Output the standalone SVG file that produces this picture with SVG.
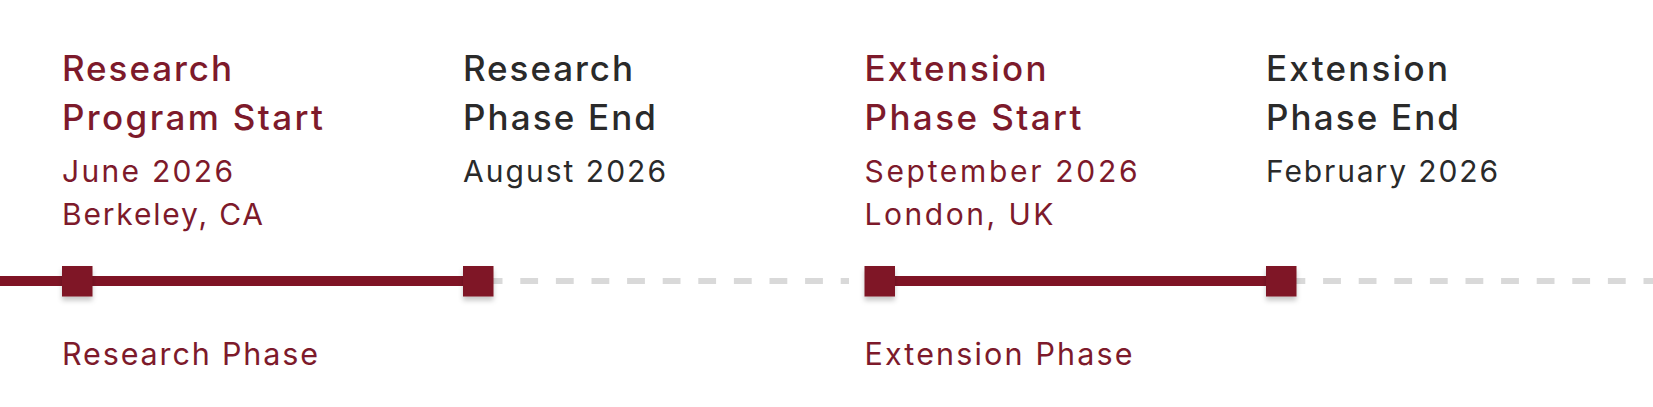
<svg xmlns="http://www.w3.org/2000/svg" width="1653" height="407" viewBox="0 0 1653 407">
  <defs>
    <filter id="shadow" x="-50%" y="-50%" width="200%" height="200%">
      <feDropShadow dx="0" dy="4" stdDeviation="2.5" flood-color="#000" flood-opacity="0.22"/>
    </filter>
  </defs>
  <style>
    .title { font-family: Inter, "Noto Sans", "Liberation Sans", sans-serif; font-size: 35px; font-weight: 500; }
    .info { font-family: Inter, "Noto Sans", "Liberation Sans", sans-serif; font-size: 30px; font-weight: 400; }
    .phase { font-family: Inter, "Noto Sans", "Liberation Sans", sans-serif; font-size: 30.5px; font-weight: 400; fill: #7d1a2b; }
    .redtxt { fill: #7d1a2b; }
    .dark { fill: #2a2a2a; }
    .solid { stroke: #7f1425; stroke-width: 10; fill: none; }
    .dashed { stroke: #d9d9d9; stroke-width: 6; fill: none; stroke-dasharray: 17.8 17.8; }
    .marker { fill: #7f1425; filter: url(#shadow); }
  </style>

  <g id="connectors">
    <line class="solid" x1="0" y1="281" x2="478.5" y2="281"/>
    <line class="dashed" x1="484.7" y1="281" x2="849" y2="281"/>
    <line class="solid" x1="880" y1="281" x2="1281.5" y2="281"/>
    <line class="dashed" x1="1287.5" y1="281" x2="1653" y2="281"/>
  </g>

  <g id="research-program-start">
    <rect class="marker" x="62" y="266" width="30.5" height="30.5"/>
    <text class="title redtxt" x="62" y="81" textLength="170">Research</text>
    <text class="title redtxt" x="62" y="129.5" textLength="261">Program Start</text>
    <text class="info redtxt" x="62" y="182" textLength="171">June 2026</text>
    <text class="info redtxt" x="62" y="225" textLength="201">Berkeley, CA</text>
  </g>

  <g id="research-phase-end">
    <rect class="marker" x="463" y="266" width="30.5" height="30.5"/>
    <text class="title dark" x="463" y="81" textLength="170">Research</text>
    <text class="title dark" x="463" y="129.5" textLength="193">Phase End</text>
    <text class="info dark" x="463" y="182" textLength="203">August 2026</text>
  </g>

  <g id="extension-phase-start">
    <rect class="marker" x="864.5" y="266" width="30.5" height="30.5"/>
    <text class="title redtxt" x="864.5" y="81" textLength="182">Extension</text>
    <text class="title redtxt" x="864.5" y="129.5" textLength="217">Phase Start</text>
    <text class="info redtxt" x="864.5" y="182" textLength="273">September 2026</text>
    <text class="info redtxt" x="864.5" y="225" textLength="189">London, UK</text>
  </g>

  <g id="extension-phase-end">
    <rect class="marker" x="1266" y="266" width="30.5" height="30.5"/>
    <text class="title dark" x="1266" y="81" textLength="182">Extension</text>
    <text class="title dark" x="1266" y="129.5" textLength="193">Phase End</text>
    <text class="info dark" x="1266" y="182" textLength="232">February 2026</text>
  </g>

  <g id="research-phase-label">
    <text class="phase" x="62" y="365" textLength="256">Research Phase</text>
  </g>

  <g id="extension-phase-label">
    <text class="phase" x="864.5" y="365" textLength="268">Extension Phase</text>
  </g>
</svg>
